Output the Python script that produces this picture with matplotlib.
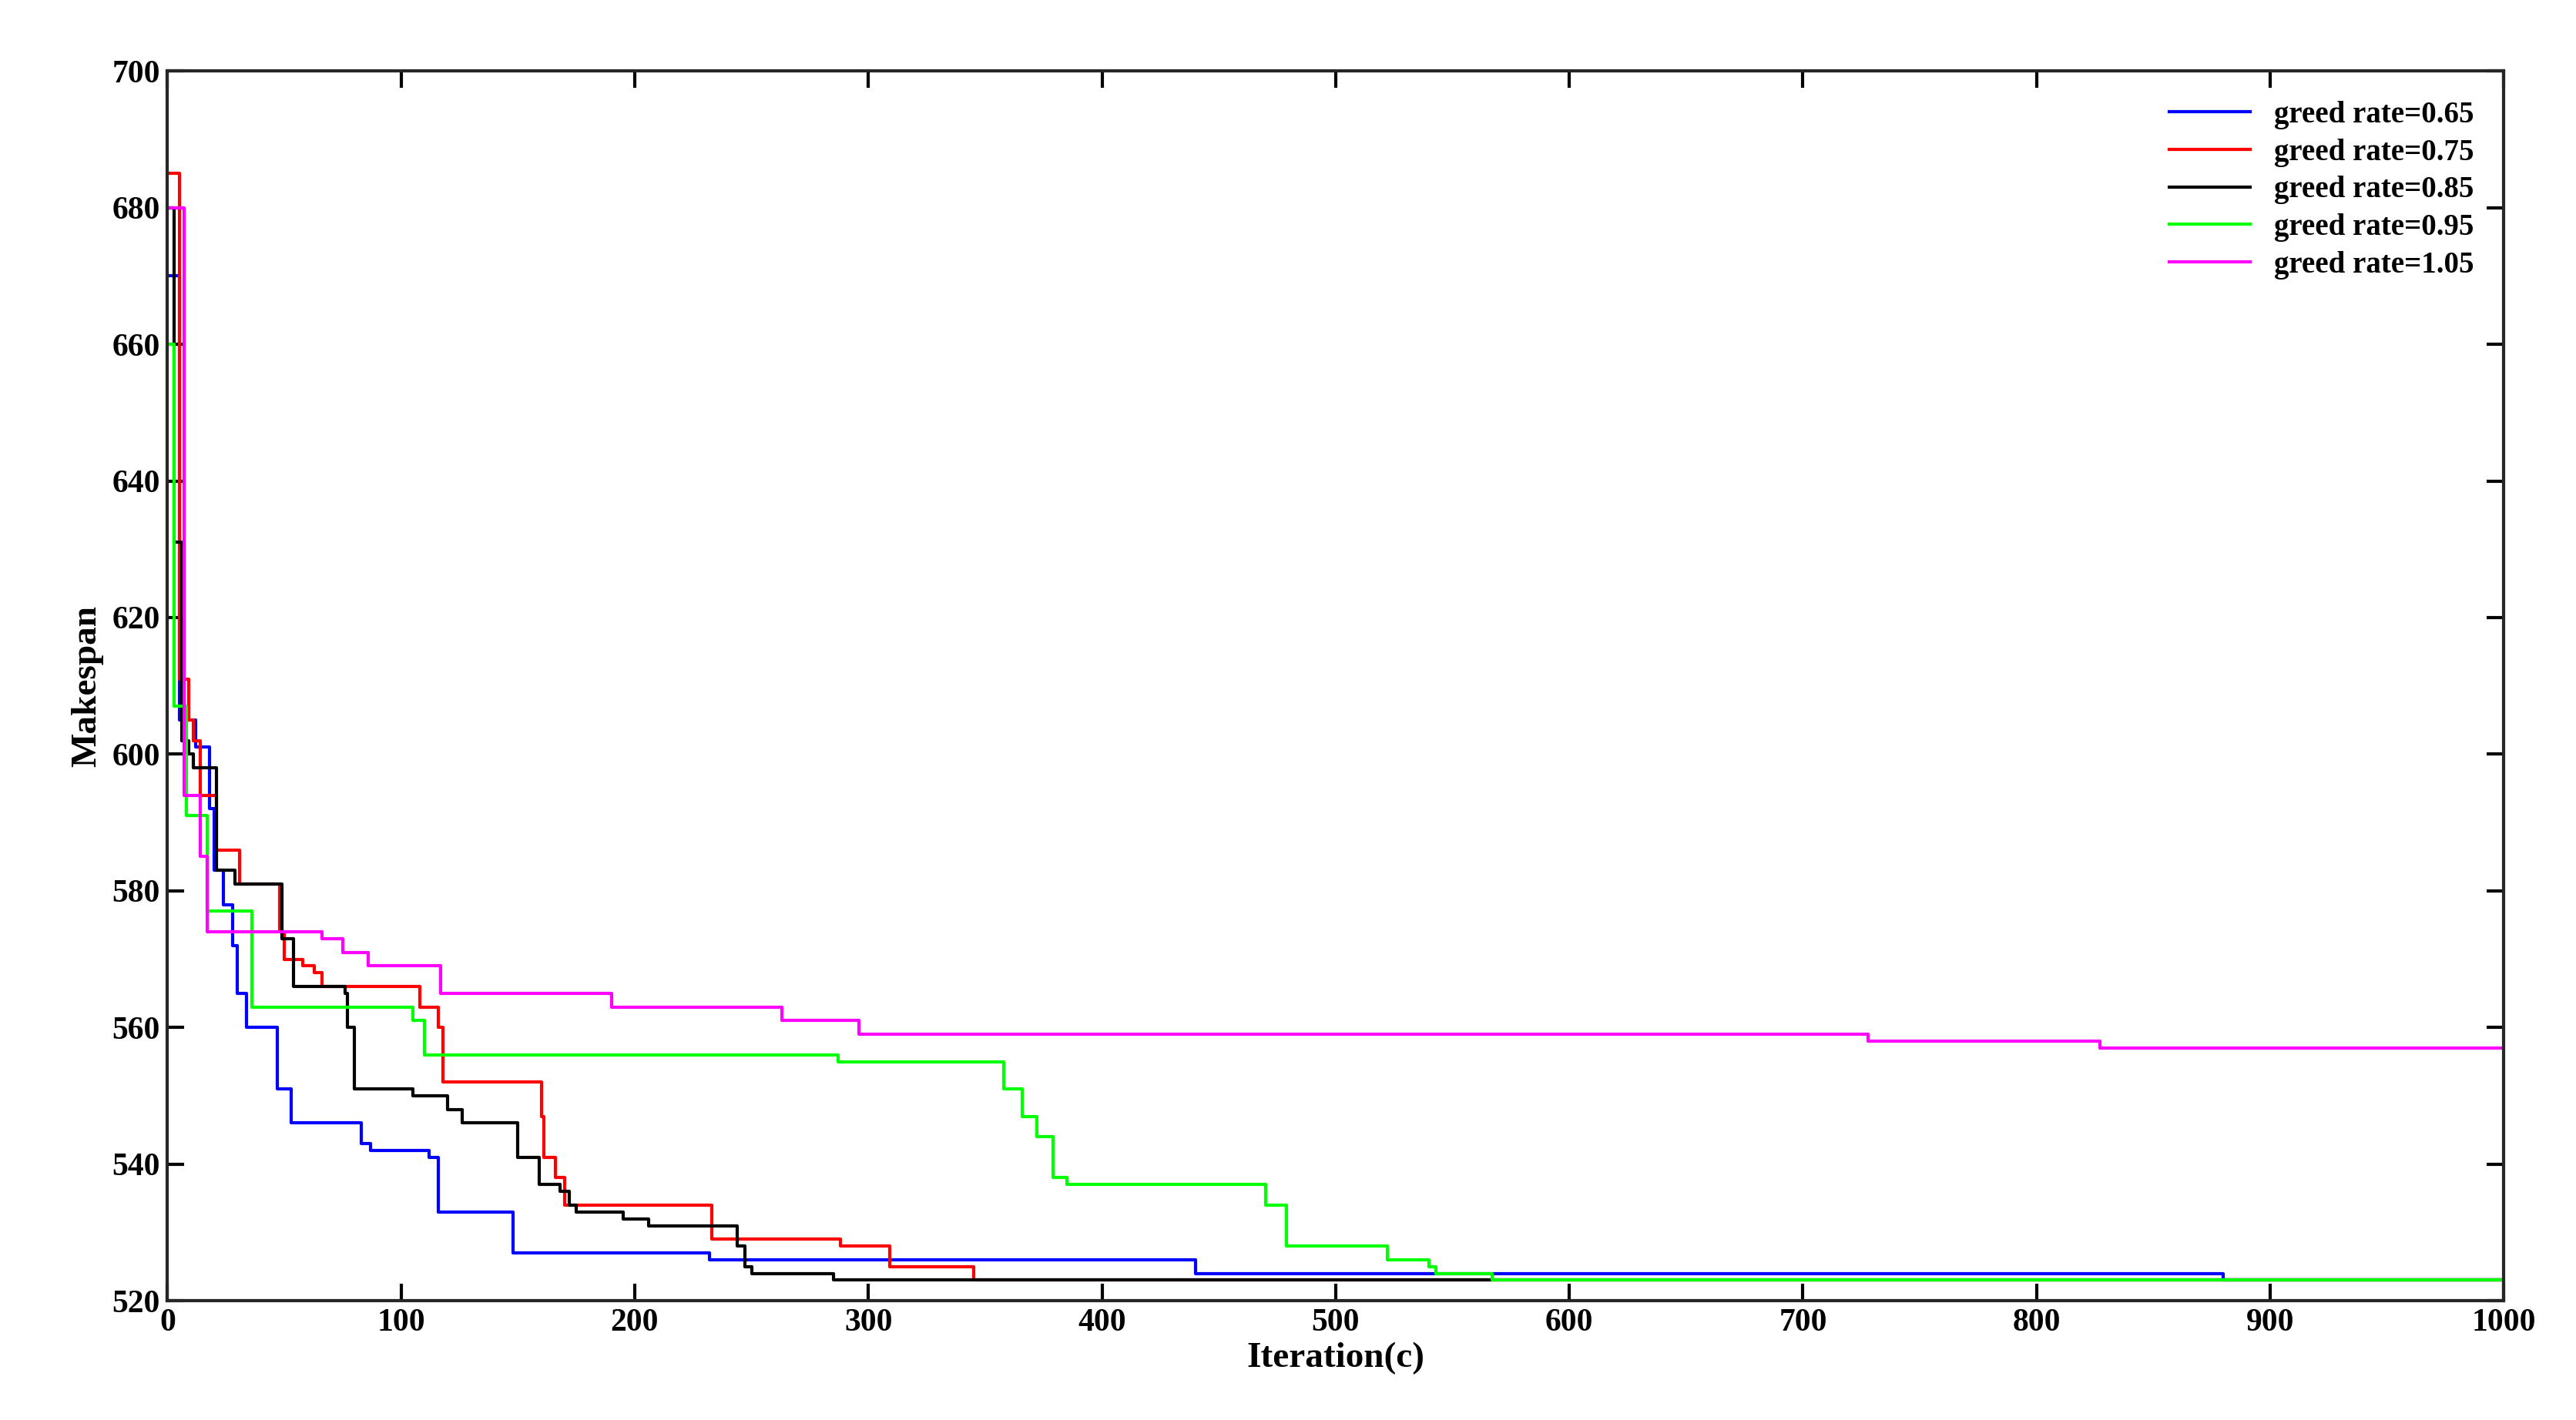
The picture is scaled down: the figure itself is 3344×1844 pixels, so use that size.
import matplotlib
matplotlib.use('Agg')
from matplotlib import pyplot as plt

## Change points (iteration, makespan), drawn as steps.

x065 = [0, 5, 12, 18, 20, 24, 28, 30, 34, 47, 53, 83, 87, 112, 116, 148, 232, 440, 880, 1000]
y065 = [670, 605, 601, 592, 583, 578, 572, 565, 560, 551, 546, 543, 542, 541, 533, 527, 526, 524, 523, 523]

x075 = [0, 5, 9, 11, 14, 21, 31, 48, 50, 58, 63, 66, 108, 116, 118, 160, 161, 166, 170, 233, 288, 309, 345, 1000]
y075 = [685, 611, 605, 602, 594, 586, 581, 574, 570, 569, 568, 566, 563, 560, 552, 547, 541, 538, 534, 529, 528, 525, 523, 523]

x085 = [0, 3, 6, 9, 11, 21, 29, 49, 54, 76, 77, 80, 105, 120, 126, 150, 159, 168, 172, 175, 195, 206, 244, 247, 250, 285, 1000]
y085 = [680, 631, 602, 600, 598, 583, 581, 573, 566, 565, 560, 551, 550, 548, 546, 541, 537, 536, 534, 533, 532, 531, 528, 525, 524, 523, 523]

x095 = [0, 3, 8, 17, 36, 105, 110, 287, 358, 366, 372, 379, 385, 470, 479, 522, 540, 543, 567, 1000]
y095 = [660, 607, 591, 577, 563, 561, 556, 555, 551, 547, 544, 538, 537, 534, 528, 526, 525, 524, 523, 523]

x105 = [0, 7, 14, 17, 66, 75, 86, 117, 190, 263, 296, 728, 827, 1000]
y105 = [680, 594, 585, 574, 573, 571, 569, 565, 563, 561, 559, 558, 557, 557]

series = [(x065, y065, 'b', 'greed rate=0.65'),
          (x075, y075, 'r', 'greed rate=0.75'),
          (x085, y085, 'k', 'greed rate=0.85'),
          (x095, y095, '#00ff00', 'greed rate=0.95'),
          (x105, y105, '#ff00ff', 'greed rate=1.05')]

plt.rcParams['font.family'] = 'Liberation Serif'
plt.rcParams['font.weight'] = 'bold'

fig = plt.figure(figsize=(16.72, 9.22), dpi=200)
ax = fig.add_axes([0.065, 0.084, 0.907, 0.866])

for x, y, c, lab in series:
    ax.plot(x, y, color=c, lw=1.5, drawstyle='steps-post', label=lab)

ax.set_xlim(0, 1000)
ax.set_ylim(520, 700)
ax.set_xticks(range(0, 1001, 100))
ax.set_yticks(range(520, 701, 20))
ax.tick_params(direction='in', top=True, right=True, labelsize=15, length=8, width=1.5)
for s in ax.spines.values():
    s.set_linewidth(1.5)
    s.set_color('#262626')
ax.set_xlabel('Iteration(c)', fontsize=17, fontweight='bold', labelpad=2)
ax.set_ylabel('Makespan', fontsize=17, fontweight='bold')

ax.legend(loc='upper right', frameon=False, fontsize=14, handlelength=2.7,
          labelspacing=0.3, borderaxespad=0.6, prop={'weight': 'bold', 'size': 14})

fig.savefig('out.png', dpi=200)
